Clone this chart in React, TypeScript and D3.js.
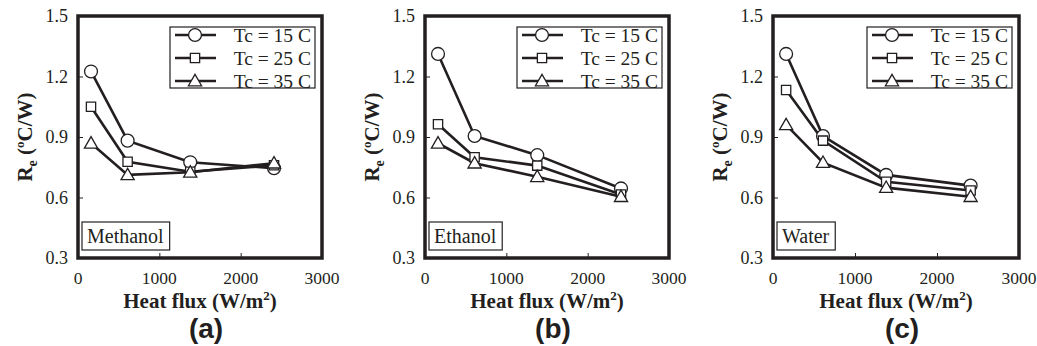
import * as d3 from "d3";
import { useEffect, useRef } from "react";

// ---- data ----
const heatFlux = [160, 610, 1380, 2410];
const seriesNames = ["Tc = 15 C", "Tc = 25 C", "Tc = 35 C"];
const yTicks = [0.3, 0.6, 0.9, 1.2, 1.5];
const xTicks = [0, 1000, 2000, 3000];

const methanol15 = [1.225, 0.882, 0.775, 0.745];
const methanol25 = [1.05, 0.777, 0.728, 0.76];
const methanol35 = [0.869, 0.712, 0.725, 0.77];

const ethanol15 = [1.312, 0.905, 0.81, 0.645];
const ethanol25 = [0.963, 0.8, 0.758, 0.615];
const ethanol35 = [0.869, 0.77, 0.703, 0.604];

const water15 = [1.312, 0.905, 0.712, 0.659];
const water25 = [1.133, 0.882, 0.678, 0.635];
const water35 = [0.96, 0.773, 0.649, 0.604];

const panels = [
  { fluid: "Methanol", tag: "(a)", left: 78, width: 244, series: [methanol15, methanol25, methanol35] },
  { fluid: "Ethanol", tag: "(b)", left: 425, width: 244, series: [ethanol15, ethanol25, ethanol35] },
  { fluid: "Water", tag: "(c)", left: 773, width: 246, series: [water15, water25, water35] },
];

const SERIF = "'Liberation Serif', 'Times New Roman', serif";
const SANS = "'Liberation Sans', Arial, sans-serif";
const INK = "#231f20";

const symbols = [d3.symbolCircle, d3.symbolSquare, d3.symbolTriangle];
const symbolSizes = [130, 86, 75];

export default function App() {
  const svgRef = useRef<SVGSVGElement | null>(null);
  useEffect(() => {
    if (!svgRef.current) return;
    drawPanels(svgRef.current);
  }, []);
  return (
    <svg
      ref={svgRef}
      width={1037}
      height={346}
      style={{ position: "absolute", left: 0, top: 0, background: "#fff" }}
    />
  );
}

function drawPanels(svgElement: SVGSVGElement) {
  const svg = d3.select(svgElement);
  svg.selectAll("*").remove();

  const top = 16;
  const bottom = 258;

  panels.forEach((p) => {
    const x = d3.scaleLinear().domain([0, 3000]).range([p.left, p.left + p.width]);
    const y = d3.scaleLinear().domain([0.3, 1.5]).range([bottom, top]);
    const g = svg.append("g");

    // --- ticks (inward) ---
    g.append("g")
      .attr("transform", `translate(0,${bottom})`)
      .call(d3.axisTop(x).tickValues(xTicks.slice(1, -1)).tickSize(5).tickFormat(() => ""))
      .call((a) => a.select(".domain").remove())
      .selectAll("line")
      .attr("stroke", INK)
      .attr("stroke-width", 1);

    g.append("g")
      .attr("transform", `translate(${p.left},0)`)
      .call(d3.axisRight(y).tickValues(yTicks.slice(1, -1)).tickSize(5).tickFormat(() => ""))
      .call((a) => a.select(".domain").remove())
      .selectAll("line")
      .attr("stroke", INK)
      .attr("stroke-width", 1);

    // --- tick labels ---
    g.selectAll(".ylab")
      .data(yTicks)
      .join("text")
      .attr("class", "ylab")
      .attr("x", p.left - 10)
      .attr("y", (d) => y(d) + 6)
      .attr("text-anchor", "end")
      .style("font-family", SERIF)
      .style("font-size", "18px")
      .attr("fill", INK)
      .text((d) => d.toFixed(1));

    g.selectAll(".xlab")
      .data(xTicks)
      .join("text")
      .attr("class", "xlab")
      .attr("x", (d) => x(d))
      .attr("y", 284)
      .attr("text-anchor", "middle")
      .style("font-family", SERIF)
      .style("font-size", "17.5px")
      .attr("fill", INK)
      .text((d) => String(d));

    // --- series ---
    const line = d3
      .line<number>()
      .x((_, i) => x(heatFlux[i]))
      .y((d) => y(d));

    p.series.forEach((vals) => {
      g.append("path")
        .attr("d", line(vals))
        .attr("fill", "none")
        .attr("stroke", INK)
        .attr("stroke-width", 2.6);
    });
    p.series.forEach((vals, si) => {
      g.selectAll(`.m${si}`)
        .data(vals)
        .join("path")
        .attr("class", `m${si}`)
        .attr("transform", (d, i) => `translate(${x(heatFlux[i])},${y(d) + (si === 2 ? 1 : 0)})`)
        .attr("d", d3.symbol(symbols[si], symbolSizes[si])())
        .attr("fill", "#fff")
        .attr("stroke", INK)
        .attr("stroke-width", 1.3);
    });

    // --- frame ---
    g.append("rect")
      .attr("x", p.left)
      .attr("y", top)
      .attr("width", p.width)
      .attr("height", bottom - top)
      .attr("fill", "none")
      .attr("stroke", INK)
      .attr("stroke-width", 3.5);

    // --- legend ---
    const lr = p.left + p.width - 7;
    const ll = lr - 145;
    g.append("rect")
      .attr("x", ll)
      .attr("y", 27)
      .attr("width", 145)
      .attr("height", 61)
      .attr("fill", "#fff")
      .attr("stroke", INK)
      .attr("stroke-width", 1.2);
    seriesNames.forEach((name, si) => {
      const ry = 35 + si * 23;
      g.append("line")
        .attr("x1", ll + 5)
        .attr("x2", ll + 46)
        .attr("y1", ry)
        .attr("y2", ry)
        .attr("stroke", INK)
        .attr("stroke-width", 2.6);
      g.append("path")
        .attr("transform", `translate(${ll + 25},${ry + (si === 2 ? 1 : 0)})`)
        .attr("d", d3.symbol(symbols[si], symbolSizes[si])())
        .attr("fill", "#fff")
        .attr("stroke", INK)
        .attr("stroke-width", 1.3);
      g.append("text")
        .attr("x", ll + 141)
        .attr("y", ry + 6.5)
        .attr("text-anchor", "end")
        .style("font-family", SERIF)
        .style("font-size", "19.5px")
        .attr("fill", INK)
        .text(name);
    });

    // --- fluid label box ---
    const fluidBox = g
      .append("rect")
      .attr("x", p.left + 4)
      .attr("y", 222)
      .attr("height", 28)
      .attr("fill", "#fff")
      .attr("stroke", INK)
      .attr("stroke-width", 1.2);
    const fluidText = g
      .append("text")
      .attr("x", p.left + 9)
      .attr("y", 243)
      .style("font-family", SERIF)
      .style("font-size", "20px")
      .attr("fill", INK)
      .text(p.fluid);
    const tw = (fluidText.node() as SVGTextElement).getComputedTextLength();
    fluidBox.attr("width", tw + 11);

    // --- axis titles ---
    const cx = p.left + p.width / 2;
    const xt = g
      .append("text")
      .attr("x", cx)
      .attr("y", 308)
      .attr("text-anchor", "middle")
      .style("font-family", SERIF)
      .style("font-size", "21px")
      .style("font-weight", "bold")
      .attr("fill", INK);
    xt.append("tspan").text("Heat flux (W/m");
    xt.append("tspan").attr("dy", -8).style("font-size", "13px").text("2");
    xt.append("tspan").attr("dy", 8).text(")");

    const yt = g
      .append("text")
      .attr("transform", `translate(${p.left - 46},${(top + bottom) / 2}) rotate(-90)`)
      .attr("text-anchor", "middle")
      .style("font-family", SERIF)
      .style("font-size", "21px")
      .style("font-weight", "bold")
      .attr("fill", INK);
    yt.append("tspan").text("R");
    yt.append("tspan").attr("dy", 5).style("font-size", "14px").text("e");
    yt.append("tspan").attr("dy", -5).text(" (");
    yt.append("tspan").attr("dy", -8).style("font-size", "13px").text("o");
    yt.append("tspan").attr("dy", 8).text("C/W)");

    g.append("text")
      .attr("x", cx + 6)
      .attr("y", 338)
      .attr("text-anchor", "middle")
      .style("font-family", SANS)
      .style("font-size", "28px")
      .style("font-weight", "bold")
      .attr("fill", INK)
      .text(p.tag);
  });
}
